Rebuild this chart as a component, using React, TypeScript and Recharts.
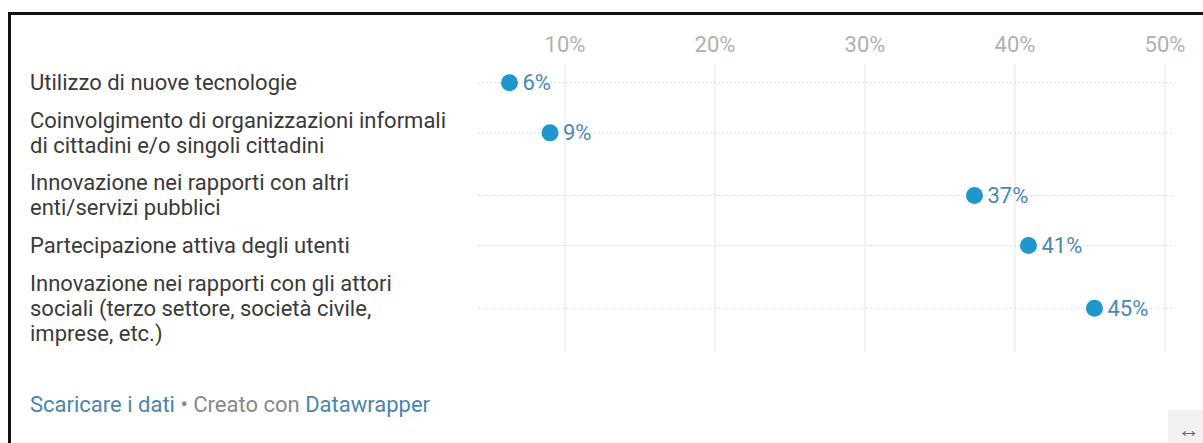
import React from "react"
import {
  ScatterChart,
  Scatter,
  XAxis,
  YAxis,
  ReferenceLine,
  LabelList,
} from "recharts"

// categories (line breaks as in the original labels)
const categories = [
  "Utilizzo di nuove tecnologie",
  "Coinvolgimento di organizzazioni informali\ndi cittadini e/o singoli cittadini",
  "Innovazione nei rapporti con altri\nenti/servizi pubblici",
  "Partecipazione attiva degli utenti",
  "Innovazione nei rapporti con gli attori\nsociali (terzo settore, società civile,\nimprese, etc.)",
]

// share of answers, in %
const values = [6.3, 9.0, 37.3, 40.9, 45.3]

const xTicks = [10, 20, 30, 40, 50]

const DOT = "#1f97cc"
const VALUE_TEXT = "#4a88b4"
const LINE_H = 25
const FONT = 22

// row heights in half-lines: 2 per text line + 1 for the gap
const rows = (() => {
  let acc = 0
  return categories.map((label, i) => {
    const lines = label.split("\n")
    const h = lines.length * 2 + 1
    const pos = acc + h / 2
    acc += h
    return { label, lines, pos, value: values[i] }
  })
})()
const totalUnits = rows.reduce((s, r) => s + r.lines.length * 2 + 1, 0)

function YTick(props: any) {
  const row = rows.find((r) => r.pos === props.payload.value)
  if (!row) return null
  const k = row.lines.length
  return (
    <g>
      {row.lines.map((ln, i) => (
        <text
          key={i}
          x={30}
          y={props.y + (i - (k - 1) / 2) * LINE_H}
          dominantBaseline="central"
          textAnchor="start"
          fontSize={FONT}
          fill="#3a3a3a"
        >
          {ln}
        </text>
      ))}
    </g>
  )
}

function XTick(props: any) {
  return (
    <text x={props.x} y={props.y - 4} textAnchor="middle" fontSize={FONT} fill="#b0b0b0">
      {props.payload.value}%
    </text>
  )
}

function ValueLabel(props: any) {
  const { x, y, width, height, value } = props
  const cx = x + (width || 0) / 2
  const cy = y + (height || 0) / 2
  return (
    <text x={cx + 13} y={cy} dominantBaseline="central" fontSize={FONT} fill={VALUE_TEXT}>
      {Math.round(value)}%
    </text>
  )
}

export default function App() {
  return (
    <div
      style={{
        position: "fixed",
        left: 0,
        top: 0,
        width: 1203,
        height: 443,
        overflow: "hidden",
        background: "#fff",
        fontFamily: "Roboto, sans-serif",
      }}
    >
      <div
        style={{
          position: "absolute",
          left: 8,
          top: 12,
          width: 1300,
          height: 600,
          border: "3px solid #111",
        }}
      />
      <div style={{ position: "absolute", left: 0, top: 0 }}>
        <ScatterChart width={1203} height={443} margin={{ top: 0, right: 28, bottom: 91, left: 28 }}>
          <XAxis
            type="number"
            dataKey="value"
            orientation="top"
            domain={[4.2, 50.67]}
            ticks={xTicks}
            height={64}
            axisLine={false}
            tickLine={false}
            tick={<XTick />}
            allowDataOverflow
          />
          <YAxis
            type="number"
            dataKey="pos"
            domain={[0, totalUnits]}
            reversed
            ticks={rows.map((r) => r.pos)}
            width={450}
            axisLine={false}
            tickLine={false}
            tick={<YTick />}
            interval={0}
          />
          {xTicks.map((t) => (
            <ReferenceLine key={t} x={t} stroke="#e6e6e6" />
          ))}
          {rows.map((r) => (
            <ReferenceLine key={r.label} y={r.pos} stroke="#dddddd" strokeDasharray="2 2" />
          ))}
          <Scatter
            data={rows}
            isAnimationActive={false}
            shape={(p: any) => <circle cx={p.cx} cy={p.cy} r={8.5} fill={DOT} />}
          >
            <LabelList dataKey="value" content={<ValueLabel />} />
          </Scatter>
        </ScatterChart>
      </div>
      <div
        style={{
          position: "absolute",
          left: 30,
          top: 392,
          fontSize: 22,
          color: "#888",
          whiteSpace: "nowrap",
        }}
      >
        <span style={{ color: "#4a85ad" }}>Scaricare i dati</span> • Creato con{" "}
        <span style={{ color: "#4a85ad" }}>Datawrapper</span>
      </div>
      <div
        style={{
          position: "absolute",
          left: 1168,
          top: 410,
          width: 50,
          height: 40,
          background: "#f2f2f2",
          color: "#666",
          fontSize: 22,
          lineHeight: "40px",
          paddingLeft: 10,
          boxSizing: "border-box",
        }}
      >
        ↔
      </div>
    </div>
  )
}
